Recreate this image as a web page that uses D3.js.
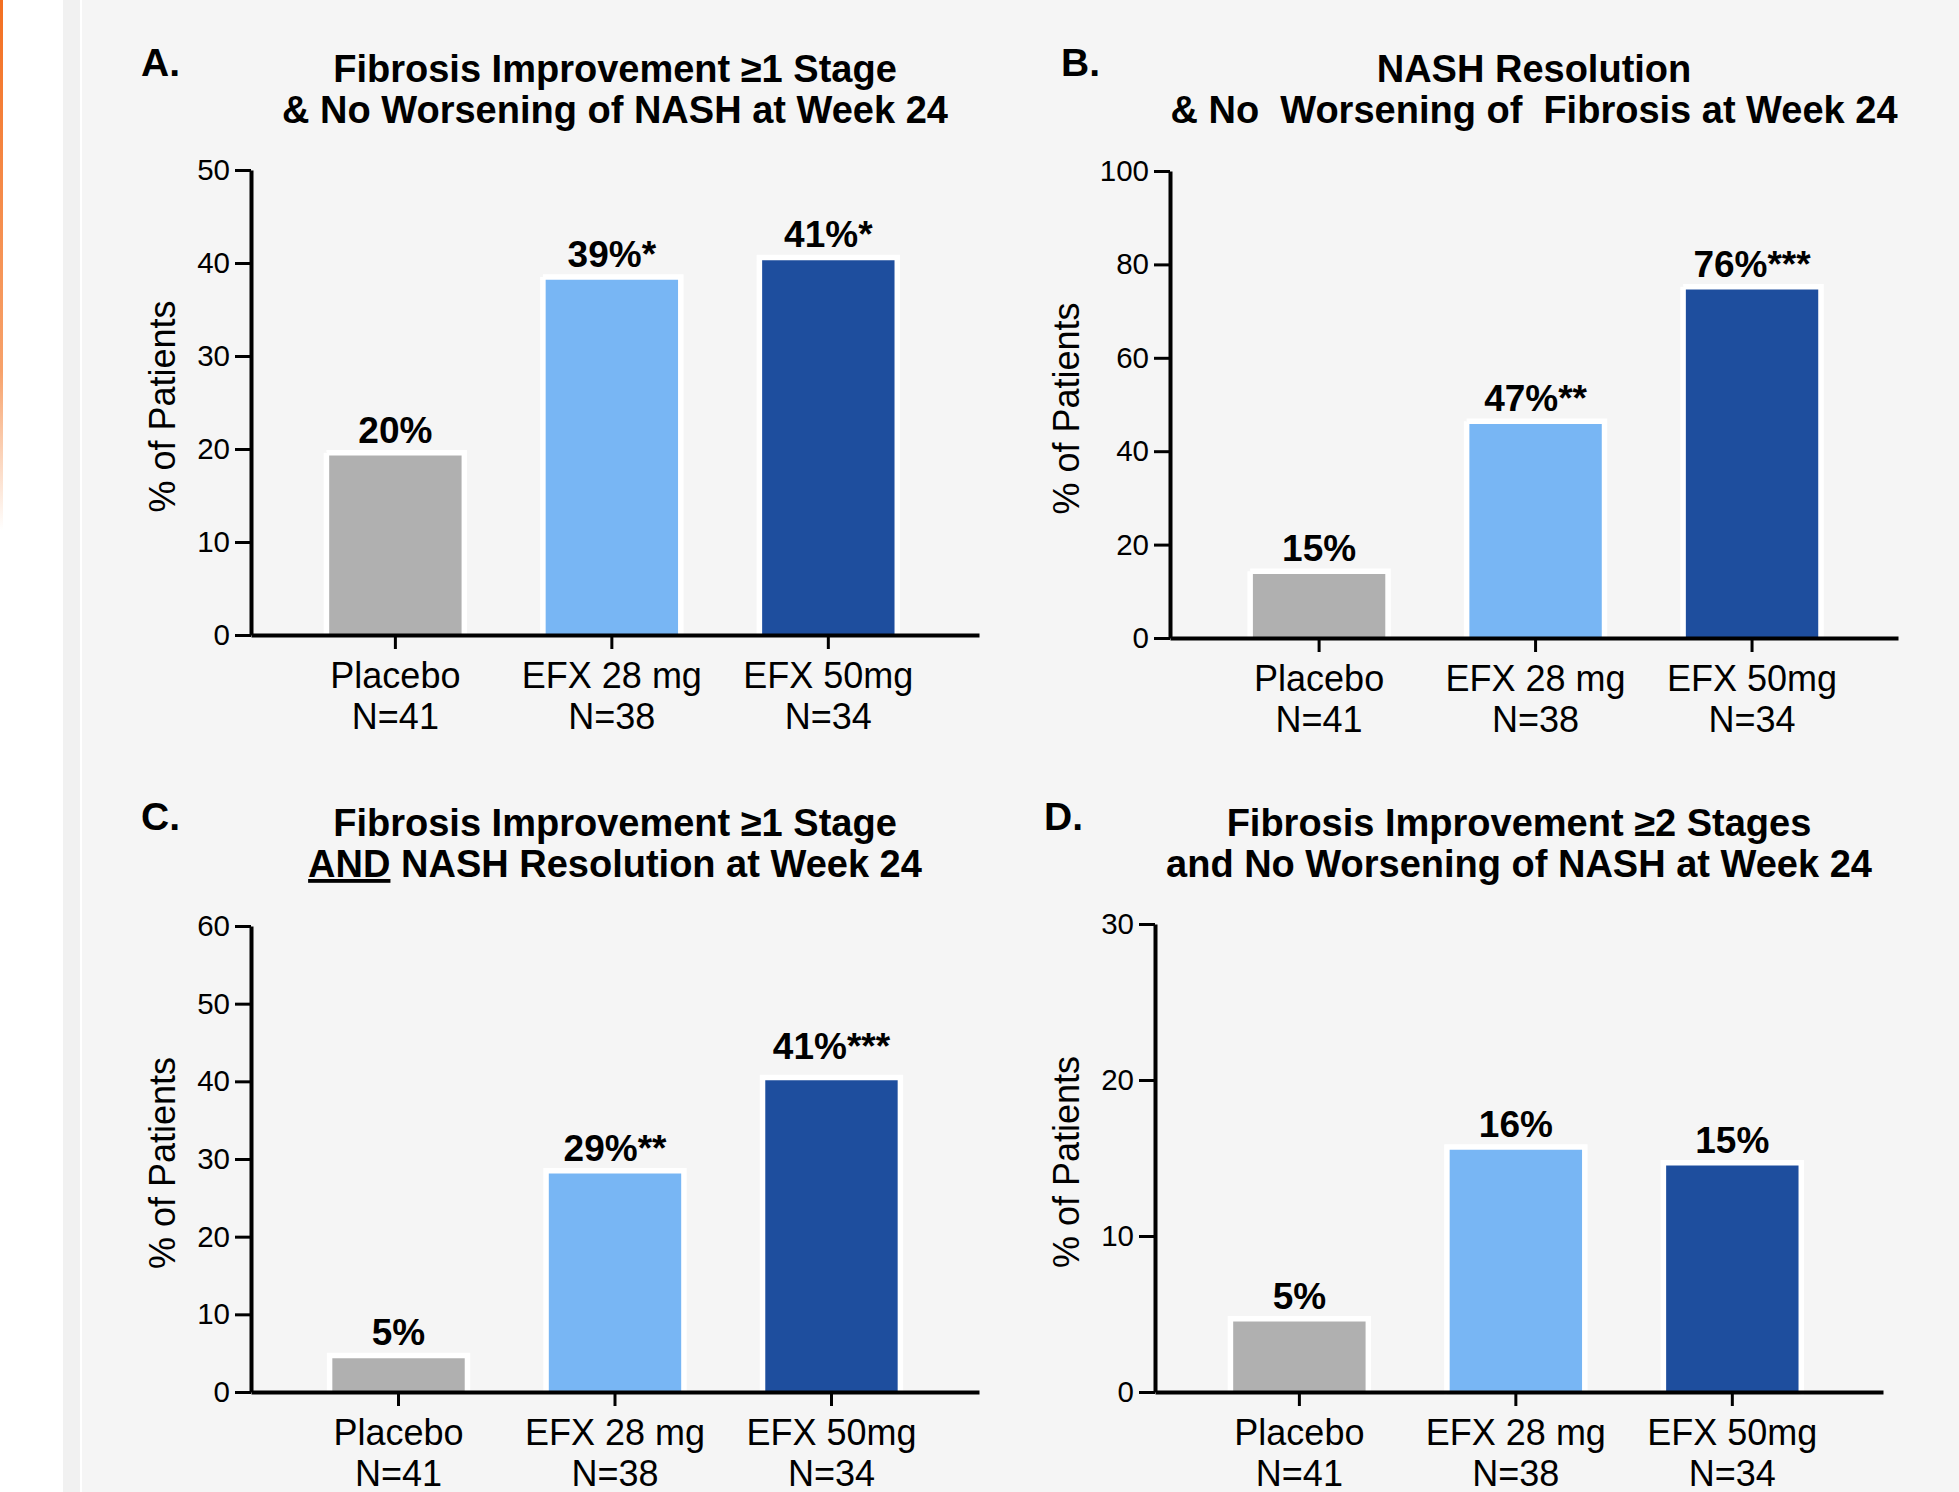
<!DOCTYPE html>
<html>
<head>
<meta charset="utf-8">
<script src="https://d3js.org/d3.v7.min.js"></script>
<style>
    body { margin: 0; background: #ffffff; }
    svg { display: block; }
    text { font-family: "Liberation Sans", Arial, Helvetica, sans-serif; fill: #000; }
</style>
</head>
<body>
<svg id="drawing_region"></svg>
<script>
// data
const categories = ["Placebo", "EFX 28 mg", "EFX 50mg"];
const group_n = ["N=41", "N=38", "N=34"];
const bar_colors = ["#b0b0b0", "#78b6f4", "#1e4e9e"];

const panel_letters = ["A.", "B.", "C.", "D."];
const titles_line1 = [
    "Fibrosis Improvement \u22651 Stage",
    "NASH Resolution",
    "Fibrosis Improvement \u22651 Stage",
    "Fibrosis Improvement \u22652 Stages"
];
const titles_line2 = [
    "& No Worsening of NASH at Week 24",
    "& No  Worsening of  Fibrosis at Week 24",
    " NASH Resolution at Week 24",
    "and No Worsening of NASH at Week 24"
];
const underlined_word = ["", "", "AND", ""];

const values_a = [19.6, 38.5, 40.6];
const values_b = [14.3, 46.4, 75.2];
const values_c = [4.7, 28.5, 40.5];
const values_d = [4.7, 15.7, 14.7];

const pct_a = ["20%", "39%", "41%"];
const pct_b = ["15%", "47%", "76%"];
const pct_c = ["5%", "29%", "41%"];
const pct_d = ["5%", "16%", "15%"];

const stars_a = ["", "*", "*"];
const stars_b = ["", "**", "***"];
const stars_c = ["", "**", "***"];
const stars_d = ["", "", ""];

const y_max = [50, 100, 60, 30];
const y_step = [10, 20, 10, 10];

const y_label = "% of Patients";

var width = 1959;
var height = 1492;

var svg = d3.select('#drawing_region')
    .attr('width', width)
    .attr('height', height);

// page background: white margin, grey strip, light panel, orange edge
svg.append('rect').attr('width', width).attr('height', height).attr('fill', '#ffffff');
svg.append('rect').attr('x', 63).attr('width', 17).attr('height', height).attr('fill', '#f1f1f1');
svg.append('rect').attr('x', 82).attr('width', width - 82).attr('height', height).attr('fill', '#f5f5f5');

const grad = svg.append('defs').append('linearGradient')
    .attr('id', 'edge').attr('x1', 0).attr('y1', 0).attr('x2', 0).attr('y2', 1);
grad.append('stop').attr('offset', '0%').attr('stop-color', '#f36f21').attr('stop-opacity', 1);
grad.append('stop').attr('offset', '70%').attr('stop-color', '#f58a45').attr('stop-opacity', 0.8);
grad.append('stop').attr('offset', '100%').attr('stop-color', '#f58a45').attr('stop-opacity', 0);
svg.append('rect').attr('x', 0).attr('y', 0).attr('width', 3).attr('height', 530).attr('fill', 'url(#edge)');

class BarPanel {
    constructor(svg, opt) {
        this.svg = svg;
        Object.assign(this, opt);
        this.init();
    }

    init() {
        this.chart = this.svg.append('g');

        this.xscale = d3.scaleBand()
            .domain(categories)
            .range([this.left, this.left + 728])
            .padding(0.363)
            .align(this.align);

        this.yscale = d3.scaleLinear()
            .domain([0, this.max])
            .range([this.bottom, this.top]);
    }

    update() {
        const x = this.xscale, y = this.yscale;
        const bw = x.bandwidth();
        const data = categories.map((c, i) => ({
            cat: c, v: this.values[i], pct: this.pct[i], star: this.stars[i],
            color: bar_colors[i], lift: this.lift[i]
        }));

        // bars with white outline on top and sides only
        this.chart.selectAll('rect.bar')
            .data(data)
            .enter().append('rect')
            .attr('class', 'bar')
            .attr('x', d => x(d.cat))
            .attr('y', d => y(d.v))
            .attr('width', bw)
            .attr('height', d => this.bottom - y(d.v))
            .attr('fill', d => d.color)
            .attr('stroke', '#ffffff')
            .attr('stroke-width', 5.5)
            .attr('stroke-dasharray', d => {
                const h = this.bottom - y(d.v);
                return `${bw + h} ${bw} ${h} 0`;
            });

        // value labels
        const lab = this.chart.selectAll('text.val')
            .data(data)
            .enter().append('text')
            .attr('class', 'val')
            .attr('x', d => x(d.cat) + bw / 2)
            .attr('y', d => y(d.v) - 10 - d.lift)
            .attr('text-anchor', 'middle')
            .style('font-size', '37px')
            .style('font-weight', 'bold');
        lab.append('tspan').text(d => d.pct);
        lab.append('tspan').text(d => d.star);

        // axes
        const yaxis = d3.axisLeft(y)
            .tickValues(d3.range(0, this.max + 1, this.step))
            .tickSize(16)
            .tickSizeOuter(0)
            .tickPadding(5);

        const xaxis = d3.axisBottom(x)
            .tickSize(14)
            .tickSizeOuter(0)
            .tickFormat('');

        const yg = this.chart.append('g')
            .attr('transform', `translate(${this.left}, 0)`)
            .call(yaxis);
        yg.select('.domain').attr('stroke-width', 4);
        yg.selectAll('.tick line').attr('stroke-width', 3);
        yg.selectAll('.tick text')
            .style('font-size', '29.5px')
            .attr('fill', '#000');

        const xg = this.chart.append('g')
            .attr('transform', `translate(0, ${this.bottom})`)
            .call(xaxis);
        xg.select('.domain').attr('stroke-width', 4);
        xg.selectAll('.tick line').attr('stroke-width', 3);
        xg.selectAll('.tick text').each(function(d, i) {
            const t = d3.select(this)
                .text(null)
                .attr('y', null)
                .attr('dy', null)
                .attr('fill', '#000')
                .style('font-size', '36px');
            t.append('tspan').attr('x', 0).attr('y', 53).text(categories[i]);
            t.append('tspan').attr('x', 0).attr('y', 94).text(group_n[i]);
        });

        // y label
        const cy = (this.top + this.bottom) / 2 + 4;
        this.chart.append('text')
            .attr('transform', `translate(${this.left - this.label_off + 13}, ${cy}) rotate(-90)`)
            .attr('text-anchor', 'middle')
            .style('font-size', '36px')
            .text(y_label);

        // title
        const cx = this.left + 364;
        this.chart.append('text')
            .attr('x', cx)
            .attr('y', this.title_y)
            .attr('text-anchor', 'middle')
            .style('font-size', '38px')
            .style('font-weight', 'bold')
            .text(this.title1);
        const t2 = this.chart.append('text')
            .attr('x', cx)
            .attr('y', this.title_y + 41)
            .attr('text-anchor', 'middle')
            .attr('xml:space', 'preserve')
            .style('white-space', 'pre')
            .style('font-size', '38px')
            .style('font-weight', 'bold');
        if (this.under) {
            t2.append('tspan').style('text-decoration', 'underline').text(this.under);
        }
        t2.append('tspan').text(this.title2);

        // panel letter
        this.chart.append('text')
            .attr('x', this.letter_x)
            .attr('y', this.letter_y)
            .style('font-size', '39px')
            .style('font-weight', 'bold')
            .text(this.letter);
    }
}

const all_values = [values_a, values_b, values_c, values_d];
const all_pct = [pct_a, pct_b, pct_c, pct_d];
const all_stars = [stars_a, stars_b, stars_c, stars_d];

// panel placement
const layout = [
    {left: 251, bottom: 635, top: 170, align: 0.48, label_off: 89, title_y: 82, letter_x: 141, letter_y: 76, lift: [0, 0, 0]},
    {left: 1170, bottom: 638, top: 171, align: 0.51, label_off: 104, title_y: 82, letter_x: 1061, letter_y: 76, lift: [0, 0, 0]},
    {left: 251, bottom: 1392, top: 926, align: 0.5, label_off: 89, title_y: 836, letter_x: 141, letter_y: 830, lift: [0, 0, 8]},
    {left: 1155, bottom: 1392, top: 924, align: 0.48, label_off: 89, title_y: 836, letter_x: 1044, letter_y: 830, lift: [0, 0, 0]}
];

layout.forEach((l, i) => {
    const panel = new BarPanel(svg, Object.assign({}, l, {
        values: all_values[i],
        pct: all_pct[i],
        stars: all_stars[i],
        max: y_max[i],
        step: y_step[i],
        title1: titles_line1[i],
        title2: titles_line2[i],
        under: underlined_word[i],
        letter: panel_letters[i]
    }));
    panel.update();
});
</script>
</body>
</html>
